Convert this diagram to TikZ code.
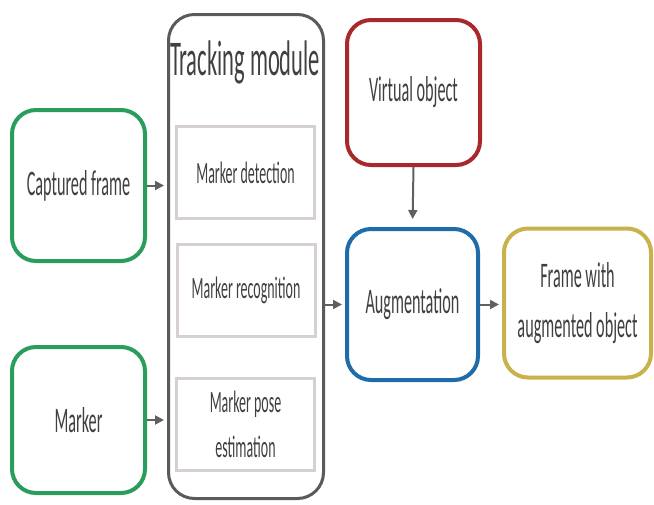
\documentclass[tikz,border=0pt]{standalone}
\usepackage{fontspec}
\setmainfont{Carlito}[FakeStretch=0.45]
\usetikzlibrary{arrows.meta}
\definecolor{txt}{HTML}{404040}
\definecolor{cgreen}{HTML}{2A9C5C}
\definecolor{cred}{HTML}{A8282C}
\definecolor{cblue}{HTML}{1F6CAA}
\definecolor{cgold}{HTML}{C9B24E}
\definecolor{cgray}{HTML}{5A5A5A}
\definecolor{innergray}{HTML}{D6D0D0}
\definecolor{arrgray}{HTML}{606060}
\begin{document}
\begin{tikzpicture}[x=1pt,y=-1pt,
  box/.style={draw, rounded corners=24pt, line width=4pt, fill=white, text=txt,
    font=\fontsize{36}{50}\selectfont, align=center, inner sep=0pt},
  trk/.style={draw=cgray, rounded corners=26pt, line width=3pt, fill=white, inner sep=0pt},
  innerbox/.style={draw=innergray, line width=3pt, fill=white, text=txt,
    font=\fontsize{31}{45}\selectfont, align=center, inner sep=0pt,
    minimum width=138pt, minimum height=92pt},
  arr/.style={draw=arrgray, line width=2pt, -{Triangle[length=9pt,width=9pt]}}]
\useasboundingbox (0,0) rectangle (654,504);

\node[trk, minimum width=155pt, minimum height=484pt] (track) at (246,256.5) {};
\node[text=txt, font=\fontsize{50}{56}\selectfont, anchor=base] (title) at (245,75) {Tracking module};

\node[innerbox] (det) at (245.5,172.5) {Marker detection};
\node[innerbox] (rec) at (246,290.5) {Marker recognition};
\node[innerbox] (pose) at (245.5,424.5) {Marker pose\\estimation};

\node[box, draw=cgreen, minimum width=133pt, minimum height=151pt] (cap) at (78.5,185.5) {Captured frame};
\node[box, draw=cgreen, minimum width=133pt, minimum height=146pt] (mark) at (78.5,420) {Marker};
\node[box, draw=cred, minimum width=133pt, minimum height=145pt] (virt) at (413.5,92.5) {Virtual object};
\node[box, draw=cblue, minimum width=131pt, minimum height=151pt] (aug) at (412.5,304.5) {Augmentation};
\node[box, draw=cgold, minimum width=147pt, minimum height=149pt] (frm) at (577.5,303) {Frame with\\augmented object};

\draw[arr, shorten >=3pt] (cap.east) -- (cap.east -| track.west);
\draw[arr, shorten >=3pt] (mark.east) -- (mark.east -| track.west);
\draw[arr, shorten >=3pt] (track.east |- aug.west) -- (aug.west);
\draw[arr, shorten >=8pt] (virt.south) -- (aug.north);
\draw[arr, shorten >=3pt] (aug.east) -- (aug.east -| frm.west);
\end{tikzpicture}
\end{document}
